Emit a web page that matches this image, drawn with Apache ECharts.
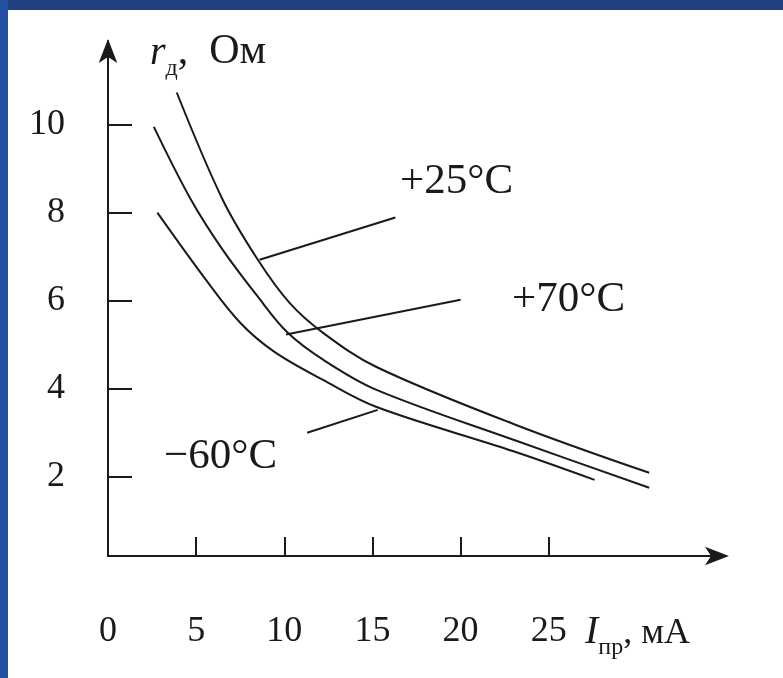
<!DOCTYPE html>
<html>
<head>
<meta charset="utf-8">
<script src="https://cdn.jsdelivr.net/npm/echarts@6/dist/echarts.min.js"></script>
<style>
  html, body { margin: 0; padding: 0; background: #fff; }
  #mychart { width: 783px; height: 678px; }
</style>
</head>
<body>
<div id="mychart"></div>
<script>
"use strict";
// current, mA
const xTicks = [5, 10, 15, 20, 25];
const xLabels = [0, 5, 10, 15, 20, 25];
// resistance, Ohm
const yTicks = [2, 4, 6, 8, 10];

// curves [I, r]
const curve25 = [[3.9, 10.73], [6.5, 8.3], [8.5, 6.93], [10.3, 5.95], [12.2, 5.27], [15.2, 4.5], [23.0, 3.2], [30.7, 2.09]];
const curve70 = [[2.6, 9.95], [4.7, 8.3], [6.5, 7.16], [8.5, 6.09], [10.2, 5.27], [12.2, 4.66], [15.2, 3.98], [23.0, 2.84], [30.7, 1.75]];
const curve60 = [[2.8, 8.0], [5.6, 6.45], [7.5, 5.5], [9.4, 4.85], [12.2, 4.2], [15.2, 3.59], [23.0, 2.58], [27.6, 1.93]];

// leader lines to the labels
const lead25 = [[8.6, 6.93], [16.3, 7.89]];
const lead70 = [[10.1, 5.23], [20.0, 6.02]];
const lead60 = [[11.3, 3.0], [15.3, 3.52]];

const FONT = '"Liberation Serif", "Times New Roman", serif';
const INK = '#1a1a1a';

const container = document.getElementById('mychart');
const myChart = echarts.init(container);

function curve(data) {
    return {
        type: 'line',
        data: data,
        smooth: 0.35,
        symbol: 'none',
        lineStyle: { color: INK, width: 2 },
        silent: true,
        z: 3
    };
}
function leader(data) {
    return {
        type: 'line',
        data: data,
        symbol: 'none',
        lineStyle: { color: INK, width: 2 },
        silent: true,
        z: 3
    };
}

const option = {
    backgroundColor: '#fff',
    animation: false,
    grid: { left: 108, right: 58, top: 41, bottom: 122 },
    xAxis: {
        type: 'value',
        min: 0,
        max: 35,
        splitLine: { show: false },
        axisLine: {
            onZero: false,
            symbol: ['none', 'arrow'],
            symbolSize: [14, 24],
            symbolOffset: [0, 4],
            lineStyle: { color: INK, width: 2 }
        },
        axisTick: {
            inside: true,
            length: 19,
            customValues: xTicks,
            lineStyle: { color: INK, width: 2 }
        },
        axisLabel: {
            customValues: xLabels,
            margin: 58,
            fontFamily: FONT,
            fontSize: 36,
            color: INK
        }
    },
    yAxis: {
        type: 'value',
        min: 0.2,
        max: 11.9,
        splitLine: { show: false },
        axisLine: {
            onZero: false,
            symbol: ['none', 'arrow'],
            symbolSize: [14, 24],
            symbolOffset: [0, 2],
            lineStyle: { color: INK, width: 2 }
        },
        axisTick: {
            inside: true,
            length: 24,
            customValues: yTicks,
            lineStyle: { color: INK, width: 2 }
        },
        axisLabel: {
            customValues: yTicks,
            margin: 43,
            fontFamily: FONT,
            fontSize: 36,
            color: INK
        }
    },
    series: [
        curve(curve25),
        curve(curve70),
        curve(curve60),
        leader(lead25),
        leader(lead70),
        leader(lead60)
    ],
    graphic: [
        // blue frame of the slide
        { type: 'rect', left: 0, top: 0, shape: { width: 783, height: 10 }, style: { fill: '#22407f' }, z: 10 },
        { type: 'rect', left: 0, top: 0, shape: { width: 8, height: 678 }, style: { fill: '#2550a2' }, z: 10 },
        // axis names
        {
            type: 'text', left: 150, top: 31,
            style: {
                text: '{i|r}{s|д}{n|,  Ом}',
                fill: INK,
                rich: {
                    i: { fontFamily: FONT, fontStyle: 'italic', fontSize: 40, fill: INK, verticalAlign: 'bottom' },
                    s: { fontFamily: FONT, fontSize: 24, fill: INK, verticalAlign: 'bottom', padding: [0, 0, -8, 0] },
                    n: { fontFamily: FONT, fontSize: 42, fill: INK, verticalAlign: 'bottom' }
                }
            }
        },
        {
            type: 'text', left: 585, top: 612,
            style: {
                text: '{i|I}{s|пр}{n|, мА}',
                fill: INK,
                rich: {
                    i: { fontFamily: FONT, fontStyle: 'italic', fontSize: 40, fill: INK, verticalAlign: 'bottom' },
                    s: { fontFamily: FONT, fontSize: 24, fill: INK, verticalAlign: 'bottom', padding: [0, 0, -8, 0] },
                    n: { fontFamily: FONT, fontSize: 36, fill: INK, verticalAlign: 'bottom' }
                }
            }
        },
        // curve labels
        { type: 'text', left: 400, top: 160, style: { text: '+25°C', fontFamily: FONT, fontSize: 43, fill: INK } },
        { type: 'text', left: 512, top: 278, style: { text: '+70°C', fontFamily: FONT, fontSize: 43, fill: INK } },
        { type: 'text', left: 164, top: 435, style: { text: '\u221260°C', fontFamily: FONT, fontSize: 43, fill: INK } }
    ]
};
myChart.setOption(option);
</script>
</body>
</html>
